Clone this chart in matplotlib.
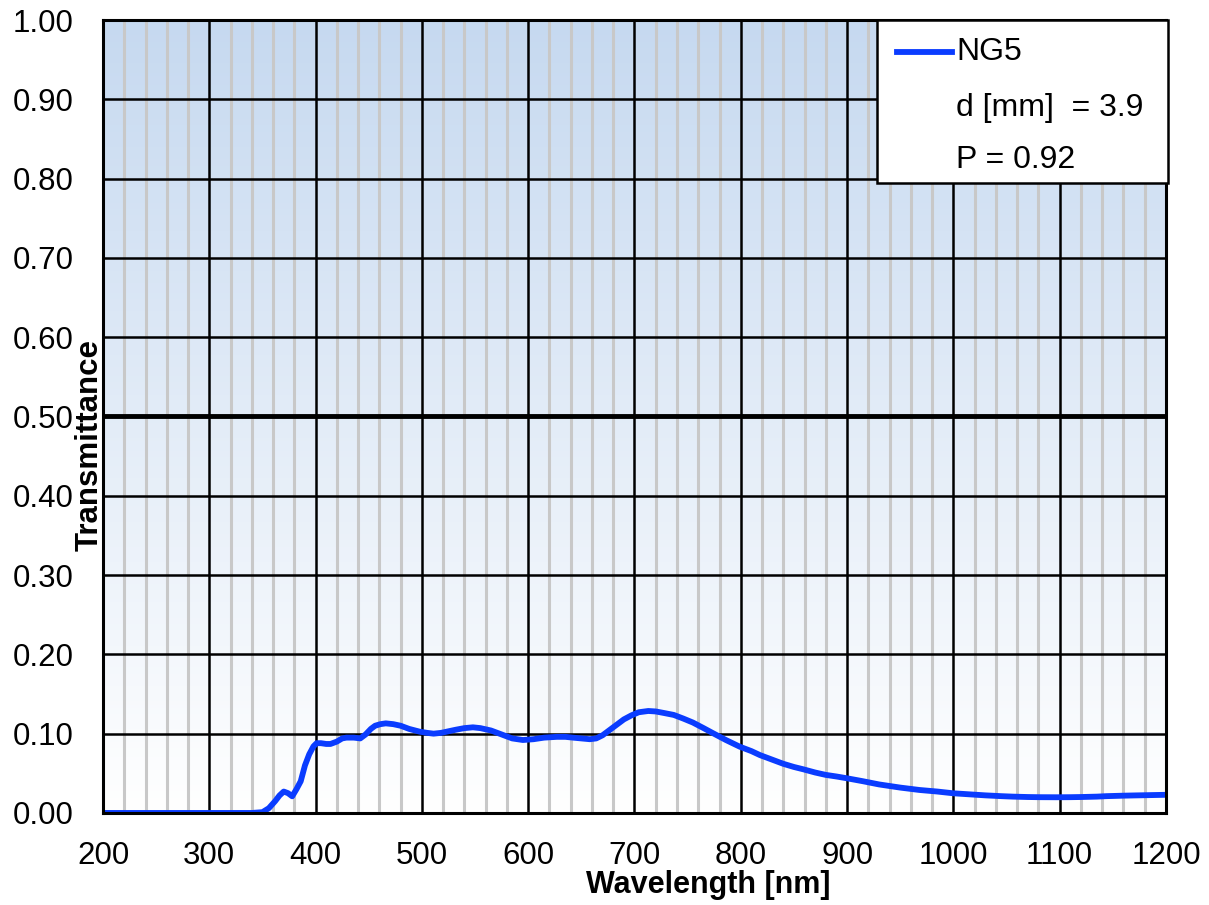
import numpy as np
import matplotlib
matplotlib.use("Agg")
import matplotlib.pyplot as plt
from matplotlib.patches import Rectangle
from matplotlib.colors import LinearSegmentedColormap

plt.rcParams["font.family"] = ["Liberation Sans", "DejaVu Sans"]

# data
wavelength = [200, 300, 340, 350, 356, 362, 366, 370, 374, 378, 382, 386, 390, 394, 398, 401,
              405, 410, 414, 420, 425, 429, 436, 442, 447, 452, 456, 461, 466, 473, 480, 488,
              498, 505, 511, 518, 525, 532, 540, 548, 555, 565, 575, 585, 595, 605, 615, 627,
              635, 642, 650, 658, 664, 670, 677, 684, 690, 697, 704, 713, 720, 728, 737, 746,
              755, 765, 774, 786, 799, 810, 818, 830, 840, 850, 859, 870, 880, 890, 900, 915,
              930, 950, 968, 985, 1000, 1015, 1030, 1045, 1056, 1070, 1080, 1097, 1110, 1120,
              1135, 1144, 1160, 1170, 1185, 1200]
transmittance = [0.0, 0.0, 0.0, 0.001, 0.006, 0.015, 0.022, 0.027, 0.025, 0.021, 0.030, 0.040,
                 0.060, 0.074, 0.084, 0.088, 0.088, 0.087, 0.087, 0.090, 0.094, 0.095, 0.095,
                 0.094, 0.099, 0.106, 0.110, 0.112, 0.113, 0.112, 0.110, 0.106, 0.1025, 0.101,
                 0.100, 0.101, 0.103, 0.105, 0.107, 0.108, 0.107, 0.104, 0.099, 0.094, 0.092,
                 0.093, 0.095, 0.096, 0.096, 0.095, 0.094, 0.093, 0.094, 0.098, 0.105, 0.112,
                 0.118, 0.123, 0.127, 0.1286, 0.128, 0.126, 0.1236, 0.119, 0.114, 0.107, 0.1005,
                 0.092, 0.0836, 0.078, 0.073, 0.067, 0.062, 0.058, 0.055, 0.051, 0.048, 0.046,
                 0.0437, 0.040, 0.036, 0.032, 0.029, 0.027, 0.0248, 0.0235, 0.0222, 0.0212,
                 0.0206, 0.0201, 0.0199, 0.0198, 0.0199, 0.0201, 0.0206, 0.0212, 0.0218, 0.0221,
                 0.0225, 0.0229]
legend_labels = ["NG5", "d [mm]  = 3.9", "P = 0.92"]

W, H = 1209, 905
fig = plt.figure(figsize=(W / 100, H / 100), dpi=100)
ax = fig.add_axes([0.0852, 0.1017, 0.8792, 0.8762])

# gradient background
cmap = LinearSegmentedColormap.from_list("bg", ["#ffffff", "#c6d9f0"])
grad = np.linspace(0, 1, 256).reshape(-1, 1)
ax.imshow(grad, cmap=cmap, origin="lower", aspect="auto",
          extent=[200, 1200, 0, 1], zorder=0)

# grid
for x in np.arange(220, 1200, 20):
    if x % 100 != 0:
        ax.axvline(x, color="#c8c8c8", lw=2.2, zorder=1)
for x in np.arange(300, 1200, 100):
    ax.axvline(x, color="black", lw=1.8, zorder=2)
for y in np.arange(0.1, 1.0, 0.1):
    ax.axhline(y, color="black", lw=1.8, zorder=2)
ax.axhline(0.5, color="black", lw=3.5, zorder=2)

ax.plot(wavelength, transmittance, color="#0a3cff", lw=4.2, zorder=3,
        solid_capstyle="round", solid_joinstyle="round")

ax.set_xlim(200, 1200)
ax.set_ylim(0, 1)
ax.set_xticks(np.arange(200, 1201, 100))
ax.set_yticks(np.arange(0, 1.01, 0.1))
ax.set_yticklabels([f"{v:.2f}" for v in np.arange(0, 1.01, 0.1)])
ax.tick_params(length=0, labelsize=22.5)
ax.tick_params(axis="y", pad=21)
ax.tick_params(axis="x", pad=20)
for s in ax.spines.values():
    s.set_linewidth(2.2)
    s.set_zorder(4)

fig.text(0.0745, 0.508, "Transmittance", rotation=90, ha="center", va="center",
         fontsize=22.5, fontweight="bold")
fig.text(0.5856, 0.005, "Wavelength [nm]", ha="center", va="bottom",
         fontsize=22, fontweight="bold")

# legend box drawn by hand (pixel positions -> figure fractions)
def fx(px):
    return px / W

def fy(py):
    return 1 - py / H

box = Rectangle((fx(877), fy(183)), fx(1168) - fx(877), fy(20) - fy(183),
                transform=fig.transFigure, facecolor="white", edgecolor="black",
                linewidth=1.8, zorder=10)
fig.patches.append(box)
fig.add_artist(plt.Line2D([fx(897), fx(952)], [fy(52), fy(52)], color="#0a3cff",
                          lw=4.2, transform=fig.transFigure, zorder=11))
for label, py in zip(legend_labels, [52, 108, 160]):
    fig.text(fx(956), fy(py), label, ha="left", va="center", fontsize=23, zorder=11)

fig.savefig("out.png", dpi=100)
